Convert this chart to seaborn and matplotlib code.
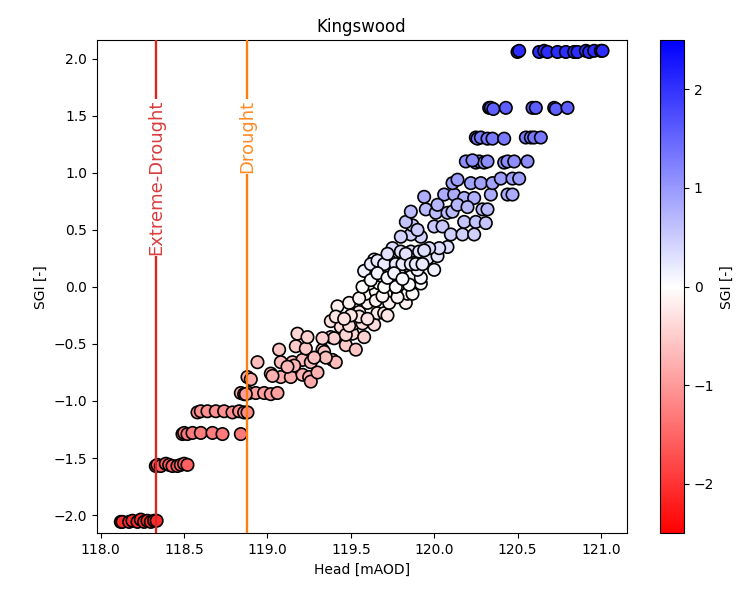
import matplotlib
matplotlib.use("Agg")
import matplotlib.pyplot as plt
import matplotlib as mpl
import numpy as np
import pandas as pd
import seaborn as sns

# ---------------- data ----------------
head = [
    # SGI ~ -2.06
    118.12, 118.13, 118.17, 118.19, 118.22, 118.24, 118.26, 118.28, 118.30, 118.32, 118.335,
    # SGI ~ -1.57
    118.33, 118.34, 118.36, 118.39, 118.41, 118.43, 118.46, 118.48, 118.50, 118.52,
    # SGI ~ -1.29
    118.49, 118.50, 118.52, 118.55, 118.60, 118.67, 118.73, 118.84,
    # SGI ~ -1.09
    118.58, 118.60, 118.64, 118.69, 118.74, 118.79, 118.83, 118.86, 118.88,
    # SGI ~ -0.93
    118.84, 118.86, 118.89, 118.93, 118.98, 119.02, 119.06, 118.87,
    # pink band
    118.88, 118.90, 118.94, 119.02, 119.08, 119.14, 119.21, 119.25, 119.15, 119.21,
    119.26, 119.39, 119.07, 119.17, 119.23, 119.33, 119.47, 119.53, 119.18, 119.24,
    119.38, 119.51, 119.58, 119.38, 119.42, 119.44, 119.49, 119.52, 119.55, 119.57,
    119.64, 119.60, 119.66, 119.70, 119.59, 119.65, 119.71, 119.73, 119.61, 119.67,
    119.76, 119.83, 119.84, 119.87, 119.86, 119.92, 119.08, 119.03, 119.16, 119.26,
    119.34, 119.41, 119.40, 119.47, 119.49, 119.41, 119.55, 119.72,
    119.65, 119.69, 119.78, 119.55, 119.50, 119.46, 119.60, 119.33, 119.35, 119.28,
    119.12, 119.30,
    # white / light blue band
    119.57, 119.60, 119.64, 119.68, 119.74, 119.79, 119.75, 119.80, 119.86, 119.84,
    119.88, 119.91, 119.96, 120.02, 120.00, 119.86, 119.92, 120.08, 120.03, 119.97,
    119.92, 119.86, 119.80, 119.87, 119.83, 119.90, 120.00, 120.05, 120.10, 120.17,
    120.24, 120.18, 120.25, 120.31, 119.86, 119.95, 120.01, 120.08, 120.11, 120.29,
    120.32, 119.94, 120.06, 120.12, 120.18, 120.24, 120.34, 120.44, 120.47, 120.11,
    120.14, 120.22, 120.28, 120.35, 120.40, 120.47, 120.51, 119.63, 119.70, 119.77,
    119.85, 119.90,
    119.58, 119.62, 119.66, 119.70, 119.72, 119.77, 119.81, 119.83, 119.86, 119.89,
    119.93, 119.94, 119.62, 119.66, 119.72, 119.76, 119.81, 120.02, 120.14, 120.20,
    # SGI ~ 1.10
    120.19, 120.25, 120.27, 120.30, 120.32, 120.42, 120.44, 120.48, 120.56, 120.23,
    # SGI ~ 1.30
    120.25, 120.26, 120.28, 120.32, 120.35, 120.42, 120.55, 120.58, 120.60, 120.64,
    # SGI ~ 1.57
    120.33, 120.34, 120.355, 120.43, 120.59, 120.61, 120.72, 120.73, 120.80,
    # SGI ~ 2.06
    120.50, 120.51, 120.63, 120.66, 120.68, 120.74, 120.79, 120.84, 120.86, 120.91,
    120.93, 120.96, 121.00, 121.01,
]
sgi = [
    -2.06, -2.06, -2.06, -2.05, -2.06, -2.04, -2.06, -2.05, -2.06, -2.05, -2.05,
    -1.57, -1.56, -1.57, -1.55, -1.56, -1.57, -1.57, -1.56, -1.55, -1.56,
    -1.29, -1.28, -1.29, -1.28, -1.28, -1.28, -1.29, -1.29,
    -1.10, -1.09, -1.09, -1.09, -1.09, -1.10, -1.09, -1.10, -1.10,
    -0.93, -0.94, -0.93, -0.93, -0.93, -0.94, -0.93, -0.94,
    -0.79, -0.81, -0.66, -0.76, -0.79, -0.79, -0.77, -0.79, -0.66, -0.64,
    -0.66, -0.64, -0.55, -0.52, -0.54, -0.55, -0.51, -0.55, -0.41, -0.44,
    -0.44, -0.41, -0.44, -0.30, -0.17, -0.35, -0.14, -0.32, -0.22, -0.32,
    -0.33, -0.14, -0.23, -0.23, -0.06, -0.04, -0.06, -0.14, 0.03, 0.03,
    0.03, -0.14, -0.06, -0.06, 0.03, 0.03, -0.66, -0.78, -0.69, -0.83,
    -0.57, -0.66, -0.45, -0.42, -0.34, -0.26, -0.26, -0.25,
    -0.12, -0.08, -0.09, -0.10, -0.25, -0.28, -0.28, -0.45, -0.62, -0.62,
    -0.70, -0.75,
    0.00, 0.15, 0.24, 0.10, 0.22, 0.12, 0.34, 0.31, 0.31, 0.19,
    0.21, 0.31, 0.25, 0.27, 0.15, 0.09, 0.08, 0.35, 0.34, 0.34,
    0.44, 0.46, 0.44, 0.54, 0.57, 0.50, 0.53, 0.53, 0.46, 0.46,
    0.46, 0.57, 0.57, 0.56, 0.66, 0.68, 0.65, 0.65, 0.66, 0.68,
    0.68, 0.79, 0.81, 0.81, 0.78, 0.78, 0.81, 0.81, 0.81, 0.91,
    0.94, 0.91, 0.91, 0.91, 0.95, 0.95, 0.95, 0.09, 0.00, 0.00,
    0.02, 0.15,
    0.14, 0.20, 0.23, 0.20, 0.29, 0.20, 0.20, 0.29, 0.20, 0.20,
    0.20, 0.32, 0.06, 0.12, 0.08, 0.12, 0.07, 0.72, 0.72, 0.70,
    1.10, 1.09, 1.10, 1.09, 1.10, 1.09, 1.10, 1.10, 1.10, 1.11,
    1.31, 1.30, 1.31, 1.30, 1.30, 1.30, 1.31, 1.31, 1.31, 1.31,
    1.57, 1.57, 1.56, 1.57, 1.57, 1.57, 1.57, 1.56, 1.57,
    2.06, 2.07, 2.06, 2.07, 2.06, 2.06, 2.06, 2.06, 2.06, 2.07,
    2.06, 2.07, 2.07, 2.07,
]
drought_names = ["Extreme-Drought", "Drought"]
drought_heads = [118.334, 118.88]
drought_colors = ["#d62728", "#ff7f0e"]

title = "Kingswood"
xlabel = "Head [mAOD]"
ylabel = "SGI [-]"
cbar_label = "SGI [-]"

df = pd.DataFrame({"head": head, "sgi": sgi})

# ---------------- figure ----------------
fig = plt.figure(figsize=(7.48, 5.95), dpi=100)
ax = fig.add_axes([0.1293, 0.1037, 0.7084, 0.8291])
cax = fig.add_axes([0.8824, 0.1037, 0.0321, 0.8291])

norm = mpl.colors.Normalize(vmin=-2.5, vmax=2.5)
cmap = plt.get_cmap("bwr_r")

sns.scatterplot(data=df, x="head", y="sgi", hue="sgi", palette=cmap,
                hue_norm=norm, s=80, edgecolor="black", linewidth=1.2,
                legend=False, ax=ax, zorder=2)

for name, xv, col in zip(drought_names, drought_heads, drought_colors):
    ax.axvline(xv, color=col, lw=1.7, zorder=3)
    ax.text(xv, 1.64, name, rotation=90, ha="center", va="top", color=col,
            alpha=0.9, fontsize=13, zorder=4,
            bbox=dict(facecolor="white", edgecolor="none", pad=0.5))

ax.set_ylim(-2.16, 2.165)
ax.set_title(title, fontsize=12)
ax.set_xlabel(xlabel, fontsize=10)
ax.set_ylabel(ylabel, fontsize=10)

sm = mpl.cm.ScalarMappable(norm=norm, cmap=cmap)
sm.set_array([])
cb = fig.colorbar(sm, cax=cax)
cb.set_label(cbar_label, fontsize=10)
cb.set_ticks([-2, -1, 0, 1, 2])

fig.savefig("out.png", dpi=100)
